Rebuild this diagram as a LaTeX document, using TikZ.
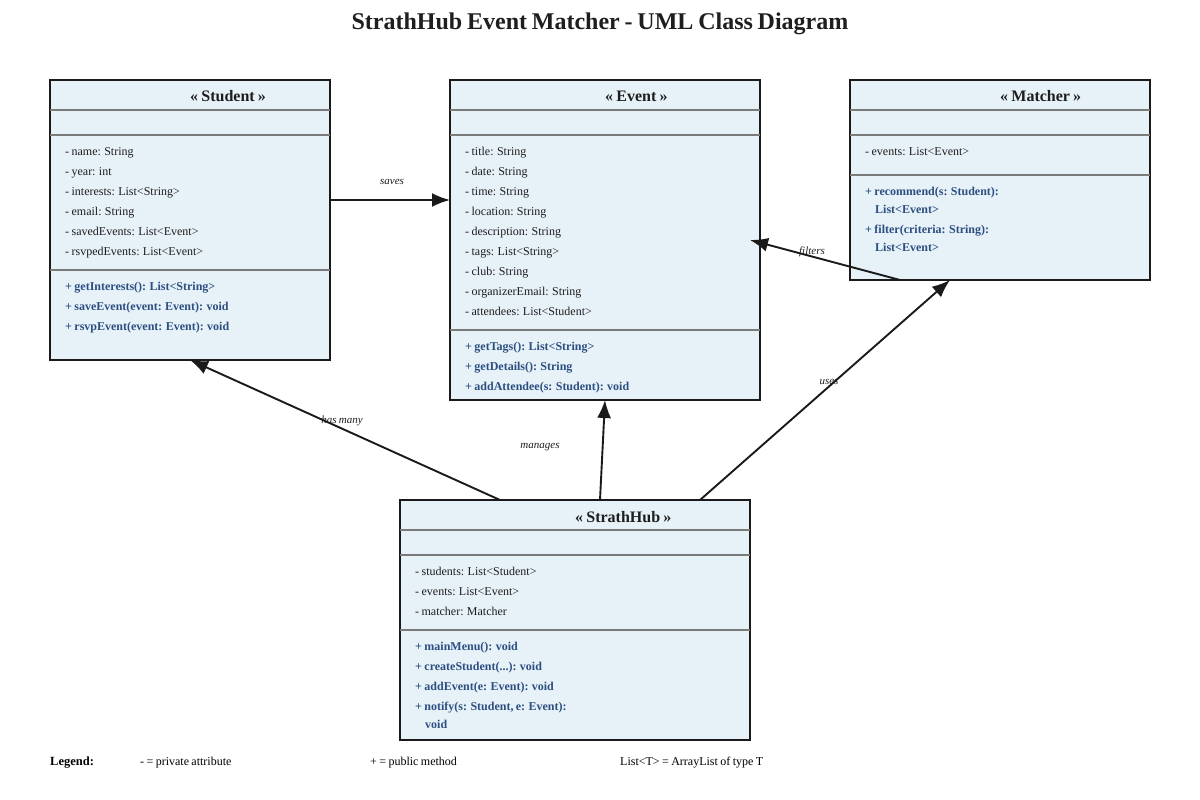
\documentclass[tikz,border=0pt]{standalone}
\usepackage{fontspec}
\setmainfont{Liberation Serif}[WordSpace=0.8]
\usetikzlibrary{arrows.meta}
\definecolor{boxfill}{RGB}{231,242,248}
\definecolor{boxline}{RGB}{26,26,26}
\definecolor{sepline}{RGB}{122,122,122}
\definecolor{methblue}{RGB}{44,78,128}
\definecolor{txt}{RGB}{30,30,30}

\begin{document}
\begin{tikzpicture}[x=1pt,y=-1pt,
  classbox/.style={draw=boxline,line width=1.8pt,fill=boxfill,inner sep=0pt,outer sep=0pt,anchor=north west},
  sep/.style={draw=sepline,line width=1.6pt},
  hdr/.style={anchor=base west,font=\fontsize{16}{18}\selectfont\bfseries,text=txt,inner sep=0pt},
  attr/.style={anchor=base west,font=\fontsize{12}{14}\selectfont,text=txt,inner sep=0pt},
  meth/.style={anchor=base west,font=\fontsize{12}{14}\selectfont\bfseries,text=methblue,inner sep=0pt},
  conn/.style={draw=boxline,line width=1.9pt,-{Latex[length=18pt,width=14pt]}},
  lbl/.style={font=\fontsize{11}{13}\selectfont\itshape,text=txt,inner sep=0pt},
  legend/.style={anchor=base west,font=\fontsize{12}{14}\selectfont,text=black,inner sep=0pt}]

\useasboundingbox (0,0) rectangle (1200,800);

% title
\node[font=\fontsize{24}{28}\selectfont\bfseries,text=txt,anchor=base,inner sep=0pt] (title) at (600,30) {StrathHub Event Matcher - UML Class Diagram};

% ---------- Student ----------
\node[classbox,minimum width=280pt,minimum height=280pt] (student) at (50,80) {};
\draw[sep] (50,110) -- (330,110) (50,135) -- (330,135) (50,270) -- (330,270);
\node[hdr] (student-name) at (190,102) {« Student »};
\foreach \t [count=\i] in {- name: String, - year: int, - interests: List<String>, - email: String, - savedEvents: List<Event>, - rsvpedEvents: List<Event>}
  \node[attr] (student-a\i) at (65,{155+20*(\i-1)}) {\t};
\foreach \t [count=\i] in {+ getInterests(): List<String>, + saveEvent(event: Event): void, + rsvpEvent(event: Event): void}
  \node[meth] (student-m\i) at (65,{290+20*(\i-1)}) {\t};

% ---------- Event ----------
\node[classbox,minimum width=310pt,minimum height=320pt] (event) at (450,80) {};
\draw[sep] (450,110) -- (760,110) (450,135) -- (760,135) (450,330) -- (760,330);
\node[hdr] (event-name) at (605,102) {« Event »};
\foreach \t [count=\i] in {- title: String, - date: String, - time: String, - location: String, - description: String, - tags: List<String>, - club: String, - organizerEmail: String, - attendees: List<Student>}
  \node[attr] (event-a\i) at (465,{155+20*(\i-1)}) {\t};
\foreach \t [count=\i] in {+ getTags(): List<String>, + getDetails(): String, + addAttendee(s: Student): void}
  \node[meth] (event-m\i) at (465,{350+20*(\i-1)}) {\t};

% ---------- Matcher ----------
\node[classbox,minimum width=300pt,minimum height=200pt] (matcher) at (850,80) {};
\draw[sep] (850,110) -- (1150,110) (850,135) -- (1150,135) (850,175) -- (1150,175);
\node[hdr] (matcher-name) at (1000,102) {« Matcher »};
\node[attr] (matcher-a1) at (865,155) {- events: List<Event>};
\node[meth] (matcher-m1) at (865,195) {+ recommend(s: Student):};
\node[meth] (matcher-m1b) at (875,213) {List<Event>};
\node[meth] (matcher-m2) at (865,233) {+ filter(criteria: String):};
\node[meth] (matcher-m2b) at (875,251) {List<Event>};

% ---------- StrathHub ----------
\node[classbox,minimum width=350pt,minimum height=240pt] (hub) at (400,500) {};
\draw[sep] (400,530) -- (750,530) (400,555) -- (750,555) (400,630) -- (750,630);
\node[hdr] (hub-name) at (575,522) {« StrathHub »};
\foreach \t [count=\i] in {- students: List<Student>, - events: List<Event>, - matcher: Matcher}
  \node[attr] (hub-a\i) at (415,{575+20*(\i-1)}) {\t};
\node[meth] (hub-m1) at (415,650) {+ mainMenu(): void};
\node[meth] (hub-m2) at (415,670) {+ createStudent(...): void};
\node[meth] (hub-m3) at (415,690) {+ addEvent(e: Event): void};
\node[meth] (hub-m4) at (415,710) {+ notify(s: Student, e: Event):};
\node[meth] (hub-m4b) at (425,728) {void};

% ---------- relations ----------
\draw[conn] ([yshift=20pt]student.east) -- ([yshift=40pt]event.west);
\draw[conn] ([xshift=-100pt]matcher.south) -- ([xshift=-10pt]event.east);
\draw[conn] ([xshift=125pt]hub.north) -- ([xshift=-50pt]matcher.south);
\draw[conn] ([xshift=25pt]hub.north) -- (event.south);
\draw[conn] ([xshift=-75pt]hub.north) -- (student.south);

\node[lbl] (lbl-saves) at (392,182) {saves};
\node[lbl] (lbl-filters) at (812,252) {filters};
\node[lbl] (lbl-uses) at (829,382) {uses};
\node[lbl] (lbl-manages) at (540,447) {manages};
\node[lbl] (lbl-hasmany) at (342,421) {has many};

% ---------- legend ----------
\node[legend,font=\fontsize{12.5}{14}\selectfont\bfseries] (leg-title) at (50,765) {Legend:};
\node[legend] (leg-private) at (140,765) {- = private attribute};
\node[legend] (leg-public) at (370,765) {+ = public method};
\node[legend] (leg-list) at (620,765) {List<T> = ArrayList of type T};
\end{tikzpicture}
\end{document}
